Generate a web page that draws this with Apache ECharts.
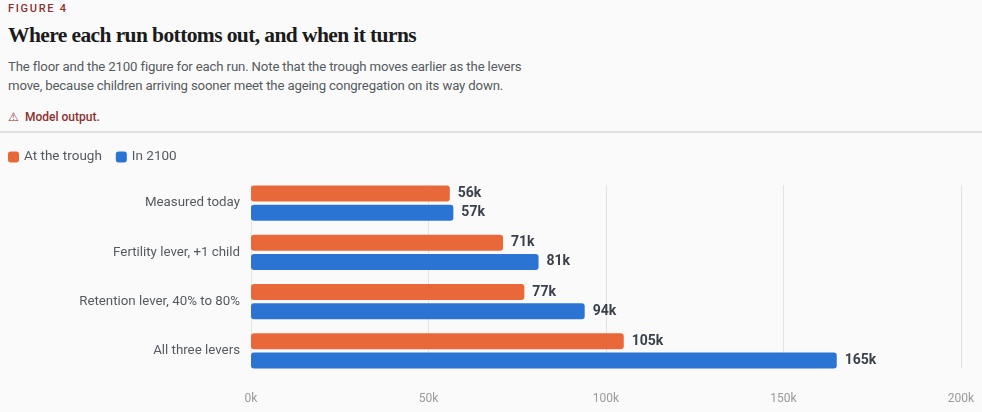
<!DOCTYPE html>
<html>
<head>
<meta charset="utf-8">
<script src="https://cdn.jsdelivr.net/npm/echarts@6/dist/echarts.min.js"></script>
<style>
  html, body { margin: 0; padding: 0; background: #fafafa; }
  body { width: 982px; height: 412px; overflow: hidden; position: relative; font-family: Roboto, sans-serif; }
  .kicker { position: absolute; left: 8px; top: 2px; font-size: 11px; font-weight: 500; letter-spacing: 1.7px; color: #8c2f2f; }
  .title { position: absolute; left: 8px; top: 23px; font-family: "Liberation Serif", serif; font-weight: bold; font-size: 21.5px; letter-spacing: -0.6px; color: #1b1b1b; }
  .sub { position: absolute; left: 8px; top: 57px; font-size: 13.2px; line-height: 19px; letter-spacing: -0.15px; color: #555a60; white-space: nowrap; }
  .note { position: absolute; left: 8px; top: 110px; font-size: 12px; font-weight: 500; color: #8c2f2f; }
  .rule { position: absolute; left: 0; top: 131px; width: 982px; height: 1.5px; background: #e2e2e2; }
  #chart { position: absolute; left: 0; top: 132px; width: 982px; height: 280px; }
</style>
</head>
<body>
<div class="kicker">FIGURE 4</div>
<div class="title">Where each run bottoms out, and when it turns</div>
<div class="sub">The floor and the 2100 figure for each run. Note that the trough moves earlier as the levers<br>move, because children arriving sooner meet the ageing congregation on its way down.</div>
<div class="note">⚠&nbsp; Model output.</div>
<div class="rule"></div>
<div id="chart"></div>
<script>
// runs, top to bottom
const runs = ['Measured today', 'Fertility lever, +1 child', 'Retention lever, 40% to 80%', 'All three levers'];
// congregation size, thousands
const atTrough = [56, 71, 77, 105];
const in2100 = [57, 81, 94, 165];
const xTicks = [0, 50, 100, 150, 200];

const chart = echarts.init(document.getElementById('chart'));

const barLabel = {
  show: true,
  position: 'right',
  distance: 8,
  formatter: p => p.value + 'k',
  fontSize: 14,
  fontWeight: 'bold',
  color: '#3b414b'
};

// x axis shared settings; the second grid only carries the gridlines and tick labels,
// so the lines stop at the outer bars like in the original
const xBase = {
  type: 'value',
  min: xTicks[0],
  max: xTicks[xTicks.length - 1],
  interval: 50,
  axisLine: { show: false },
  axisTick: { show: false }
};

chart.setOption({
  animation: false,
  textStyle: { fontFamily: 'Roboto' },
  legend: {
    left: 3,
    top: 13,
    itemWidth: 11,
    itemHeight: 11,
    itemGap: 14,
    icon: 'roundRect',
    textStyle: { fontSize: 13.5, color: '#555a60' },
    data: ['At the trough', 'In 2100']
  },
  grid: [
    { left: 251, right: 21, top: 46.5, bottom: 36.5 },
    { left: 251, right: 21, top: 53, bottom: 44 }
  ],
  xAxis: [
    Object.assign({}, xBase, { gridIndex: 0, axisLabel: { show: false }, splitLine: { show: false } }),
    Object.assign({}, xBase, {
      gridIndex: 1,
      axisLabel: { formatter: '{value}k', color: '#9a9a9a', fontSize: 12, margin: 25 },
      splitLine: { lineStyle: { color: '#e3e3e0', width: 1 } }
    })
  ],
  yAxis: [
    {
      type: 'category',
      gridIndex: 0,
      inverse: true,
      data: runs,
      axisLine: { show: false },
      axisTick: { show: false },
      axisLabel: { color: '#555a60', fontSize: 13.3, margin: 11 }
    },
    { type: 'value', gridIndex: 1, min: 0, max: 1, show: false, splitLine: { show: false } }
  ],
  series: [
    {
      name: 'At the trough',
      type: 'bar',
      data: atTrough,
      barWidth: 16,
      barGap: '19%',
      z: 3,
      itemStyle: { color: '#e8683a', borderRadius: 3 },
      label: barLabel
    },
    {
      name: 'In 2100',
      type: 'bar',
      data: in2100,
      barWidth: 16,
      z: 3,
      itemStyle: { color: '#2b74d3', borderRadius: 3 },
      label: barLabel
    }
  ]
});

window.addEventListener('resize', () => chart.resize());
</script>
</body>
</html>
